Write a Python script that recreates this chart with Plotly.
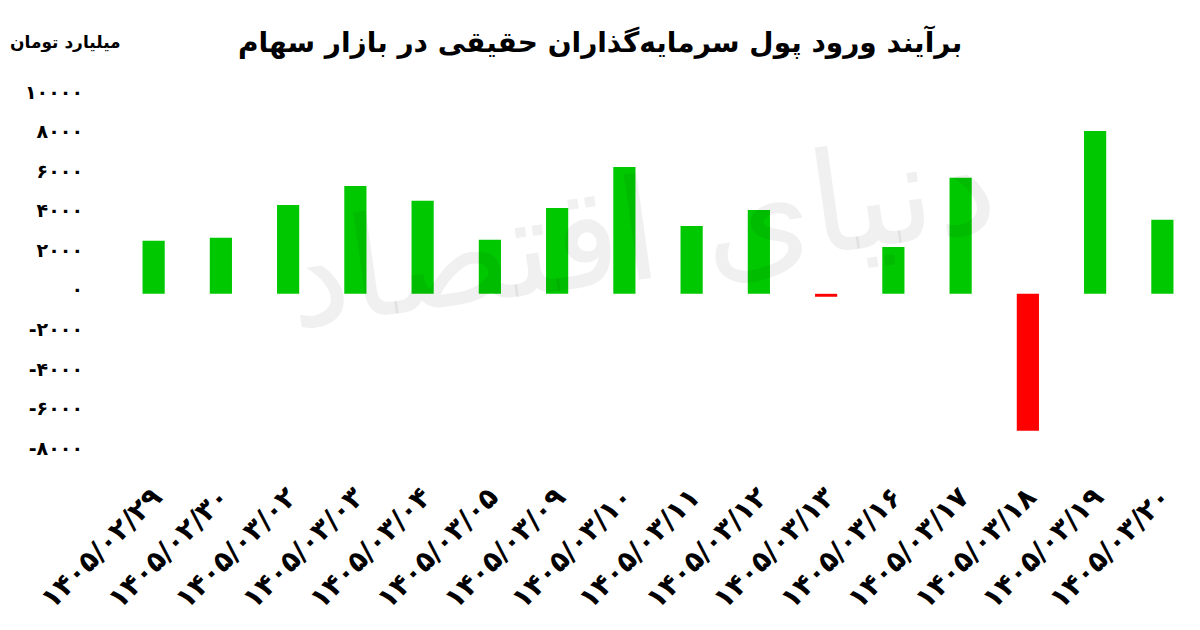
import plotly.graph_objects as go

dates = ["۱۴۰۵/۰۲/۲۹", "۱۴۰۵/۰۲/۳۰", "۱۴۰۵/۰۳/۰۲", "۱۴۰۵/۰۳/۰۳", "۱۴۰۵/۰۳/۰۴",
         "۱۴۰۵/۰۳/۰۵", "۱۴۰۵/۰۳/۰۹", "۱۴۰۵/۰۳/۱۰", "۱۴۰۵/۰۳/۱۱", "۱۴۰۵/۰۳/۱۲",
         "۱۴۰۵/۰۳/۱۳", "۱۴۰۵/۰۳/۱۶", "۱۴۰۵/۰۳/۱۷", "۱۴۰۵/۰۳/۱۸", "۱۴۰۵/۰۳/۱۹",
         "۱۴۰۵/۰۳/۲۰"]
values = [2680, 2830, 4490, 5450, 4700, 2730, 4340, 6410, 3430, 4240,
          -150, 2370, 5860, -6920, 8230, 3740]
ytick_vals = [10000, 8000, 6000, 4000, 2000, 0, -2000, -4000, -6000, -8000]
ytick_text = ["۱۰۰۰۰", "۸۰۰۰", "۶۰۰۰", "۴۰۰۰", "۲۰۰۰", "۰",
              "-۲۰۰۰", "-۴۰۰۰", "-۶۰۰۰", "-۸۰۰۰"]
title_text = "برآیند ورود پول سرمایه‌گذاران حقیقی در بازار سهام"
unit_text = "میلیارد تومان"
watermark_text = "دنیای اقتصاد"

colors = ["#00C800" if v >= 0 else "#FF0000" for v in values]
FONT = "DejaVu Sans"

# page body has an 8px default margin; compensate so the plot lands where the reference has it
OFF = 8
L, R, T, B = 120 - OFF, 4 + OFF, 90 - OFF, 170 + OFF
PW = 1200 - L - R

fig = go.Figure(go.Bar(
    x=dates, y=values, marker=dict(color=colors, line=dict(width=0)),
    width=0.33,
))

fig.update_layout(
    width=1200, height=630,
    paper_bgcolor="white", plot_bgcolor="white",
    margin=dict(l=L, r=R, t=T, b=B),
    showlegend=False,
    xaxis=dict(
        type="category", tickangle=-45, showgrid=False, zeroline=False,
        showline=False, ticks="", automargin=False,
        tickfont=dict(family=FONT, size=28, color="black", weight="bold"),
        ticklabelstandoff=14,
    ),
    yaxis=dict(
        range=[-8400, 10300], tickvals=ytick_vals, ticktext=ytick_text,
        showgrid=False, zeroline=False, showline=False, ticks="",
        automargin=False,
        tickfont=dict(family=FONT, size=19, color="black", weight="bold"),
        ticklabelstandoff=36, ticklabelshift=-4,
    ),
    annotations=[
        dict(text=title_text, xref="paper", yref="paper", x=(600 - OFF - L) / PW,
             y=1, xanchor="center", yanchor="middle", yshift=T - (42 - OFF),
             showarrow=False,
             font=dict(family=FONT, size=28, color="black", weight="bold")),
        dict(text=unit_text, xref="paper", yref="paper", x=(8 - OFF - L) / PW,
             y=1, xanchor="left", yanchor="middle", yshift=T - (42 - OFF),
             showarrow=False,
             font=dict(family=FONT, size=17, color="black", weight="bold")),
        dict(text=watermark_text, xref="paper", yref="paper", x=(640 - OFF - L) / PW,
             y=0.62, xanchor="center", yanchor="middle", showarrow=False,
             textangle=-8,
             font=dict(family=FONT, size=140, color="rgba(0,0,0,0.06)")),
    ],
)

fig.write_html("out.html")
